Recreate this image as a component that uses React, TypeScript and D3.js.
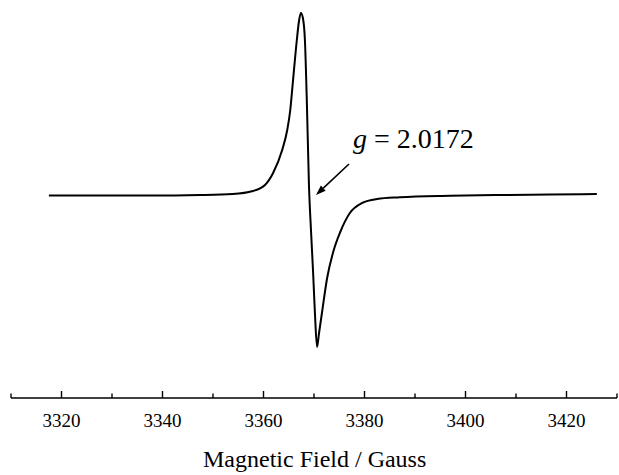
import React from "react";
import * as d3 from "d3";

// EPR first-derivative spectrum: magnetic field (G) and signal (arb. units)
const fieldGauss: number[] = [
  3317.5, 3327.6, 3337.5, 3347.4, 3353.9, 3357.9, 3360.3, 3361.9, 3363.7,
  3364.7, 3365.3, 3365.8, 3366.6, 3367.0, 3367.4, 3367.8, 3368.2, 3368.6,
  3369.0, 3369.4, 3369.8, 3370.2, 3370.6, 3371.0, 3371.6, 3372.6, 3373.8,
  3375.2, 3377.1, 3379.5, 3382.5, 3387.0, 3396.9, 3406.8, 3416.7, 3426.0,
];
const signal: number[] = [
  -0.5, -0.5, -0.5, 0, 1, 4, 10, 22, 45,
  65, 85, 112, 155, 173, 182, 177, 155, 90,
  10, -35, -75, -120, -152, -138, -117, -83, -57,
  -37, -18, -8, -4, -2.3, -0.8, 0, 0.5, 1,
];

const majorTicks: number[] = [3320, 3340, 3360, 3380, 3400, 3420];
const minorTicks: number[] = [3310, 3330, 3350, 3370, 3390, 3410, 3430];

const xTitle = "Magnetic Field / Gauss";
const gLabel = "2.0172";

const W = 619;
const H = 475;
const FONT = '"Liberation Serif", "Times New Roman", "DejaVu Serif", serif';

export default function App() {
  const x = d3.scaleLinear().domain([3310, 3430]).range([11, 617]);
  const y = d3.scaleLinear().domain([-160, 190]).range([355, 5]);
  const axisY = 398;

  const pts: [number, number][] = fieldGauss.map((f, i) => [f, signal[i]]);
  const line = d3
    .line<[number, number]>()
    .x((d) => x(d[0]))
    .y((d) => y(d[1]))
    .curve(d3.curveMonotoneX);

  // arrow pointing at the zero crossing
  const ax1 = 349, ay1 = 164, ax2 = 316, ay2 = 195;
  const ang = Math.atan2(ay2 - ay1, ax2 - ax1);
  const hl = 10, hw = 3.5;
  const bx = ax2 - hl * Math.cos(ang), by = ay2 - hl * Math.sin(ang);
  const head = `M${ax2},${ay2} L${bx + hw * Math.sin(ang)},${by - hw * Math.cos(ang)} L${bx - hw * Math.sin(ang)},${by + hw * Math.cos(ang)} Z`;

  const txt = { fontFamily: FONT, fill: "#000" } as const;

  return (
    <svg
      width={W}
      height={H}
      style={{ position: "absolute", left: 0, top: 0, background: "#fff" }}
    >
      <rect width={W} height={H} fill="#fff" />
      <path d={line(pts) ?? ""} fill="none" stroke="#000" strokeWidth={2} strokeLinejoin="round" />

      {/* axis */}
      <line x1={x(3310)} x2={x(3430)} y1={axisY} y2={axisY} stroke="#000" strokeWidth={1.6} />
      {majorTicks.map((t) => (
        <line key={"M" + t} x1={x(t)} x2={x(t)} y1={axisY} y2={axisY - 7} stroke="#000" strokeWidth={1.4} />
      ))}
      {minorTicks.map((t) => (
        <line key={"m" + t} x1={x(t)} x2={x(t)} y1={axisY} y2={axisY - 4.5} stroke="#000" strokeWidth={1.4} />
      ))}
      {majorTicks.map((t) => (
        <text key={"l" + t} x={x(t)} y={427} textAnchor="middle" style={{ ...txt, fontSize: 19 }}>
          {t}
        </text>
      ))}
      <text x={203} y={467} style={{ ...txt, fontSize: 24 }}>
        {xTitle}
      </text>

      {/* g-value annotation */}
      <line x1={ax1} y1={ay1} x2={bx} y2={by} stroke="#000" strokeWidth={1.6} />
      <path d={head} fill="#000" />
      <text x={353} y={148} style={{ ...txt, fontSize: 28 }}>
        <tspan fontStyle="italic">g</tspan>
        <tspan> = {gLabel}</tspan>
      </text>
    </svg>
  );
}
